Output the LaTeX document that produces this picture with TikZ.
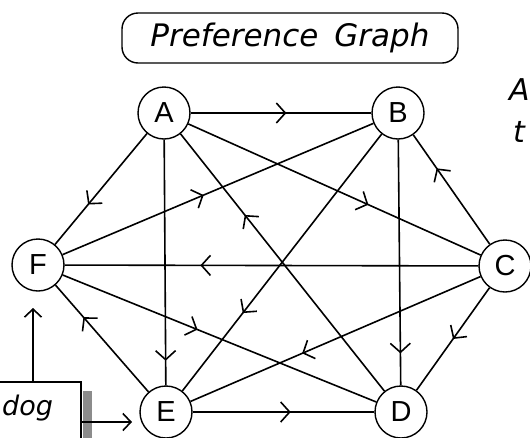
\documentclass[tikz,border=0pt]{standalone}
\usepackage{fontspec}
\setmainfont{DejaVu Sans}
\newfontfamily\nodefont{Liberation Sans}
\usetikzlibrary{arrows.meta,decorations.markings}
\tikzset{
  vtx/.style={circle,draw,line width=1.4pt,minimum size=52pt,inner sep=0pt,
    font=\nodefont\fontsize{29}{29}\selectfont},
  link/.style={line width=1.6pt},
  marr/.style={postaction={decorate},decoration={markings,
    mark=at position #1 with {\arrow{Straight Barb[length=9pt,width=20pt,line width=1.6pt]}}}},
  tipped/.style={line width=1.6pt,-{Straight Barb[length=8pt,width=17pt,line width=1.6pt]}},
  slanted/.style={font=\itshape\fontsize{#1}{#1}\selectfont},
}
\begin{document}
\begin{tikzpicture}[x=1pt,y=-1pt]
\useasboundingbox (0,0) rectangle (530,437);
\clip (0,0) rectangle (530,437);
\fill[white] (0,0) rectangle (530,437);
% title
\node[draw,line width=1.4pt,rounded corners=16pt,minimum width=336pt,minimum height=50pt,
  slanted=31] (title) at (290,38) {Preference\hspace{16pt}Graph};
% right side partial text
\node[anchor=base west,slanted=30,inner sep=0pt] (rA) at (509,100) {A};
\node[anchor=base west,slanted=30,inner sep=0pt] (rt) at (513,142) {t};
% vertices
\node[vtx] (A) at (164,113) {A};
\node[vtx] (B) at (398,113) {B};
\node[vtx] (C) at (505,266) {C};
\node[vtx] (D) at (401,412) {D};
\node[vtx] (E) at (166,412) {E};
\node[vtx] (F) at (38,265) {F};
% edges
\draw[link,marr=0.53] (A) -- (B);
\draw[link,marr=0.64] (A) -- (F);
\draw[link,marr=0.9] (A) -- (E);
\draw[link,marr=0.685] (D) -- (A);
\draw[link,marr=0.616] (A) -- (C);
\draw[link,marr=0.454] (F) -- (B);
\draw[link,marr=0.697] (B) -- (E);
\draw[link,marr=0.87] (B) -- (D);
\draw[link,marr=0.694] (C) -- (B);
\draw[link,marr=0.672] (C) -- (F);
\draw[link,marr=0.615] (C) -- (E);
\draw[link,marr=0.5] (C) -- (D);
\draw[link,marr=0.43] (F) -- (D);
\draw[link,marr=0.70] (E) -- (F);
\draw[link,marr=0.54] (E) -- (D);
% dog box
\fill[black!45] (83,391) rectangle (92,445);
\node[draw,line width=1.6pt,fill=white,minimum width=150pt,minimum height=80pt,
  anchor=north east,inner sep=0pt] (dogbox) at (82,381) {};
\node[anchor=base west,slanted=27,inner sep=0pt] (dogtxt) at (2,415) {dog};
\coordinate (uptip) at (33,308);
\coordinate (righttip) at (132,422);
\draw[tipped] (uptip |- dogbox.north) -- (uptip);
\draw[tipped] (dogbox.east |- righttip) -- (righttip);
\end{tikzpicture}
\end{document}
